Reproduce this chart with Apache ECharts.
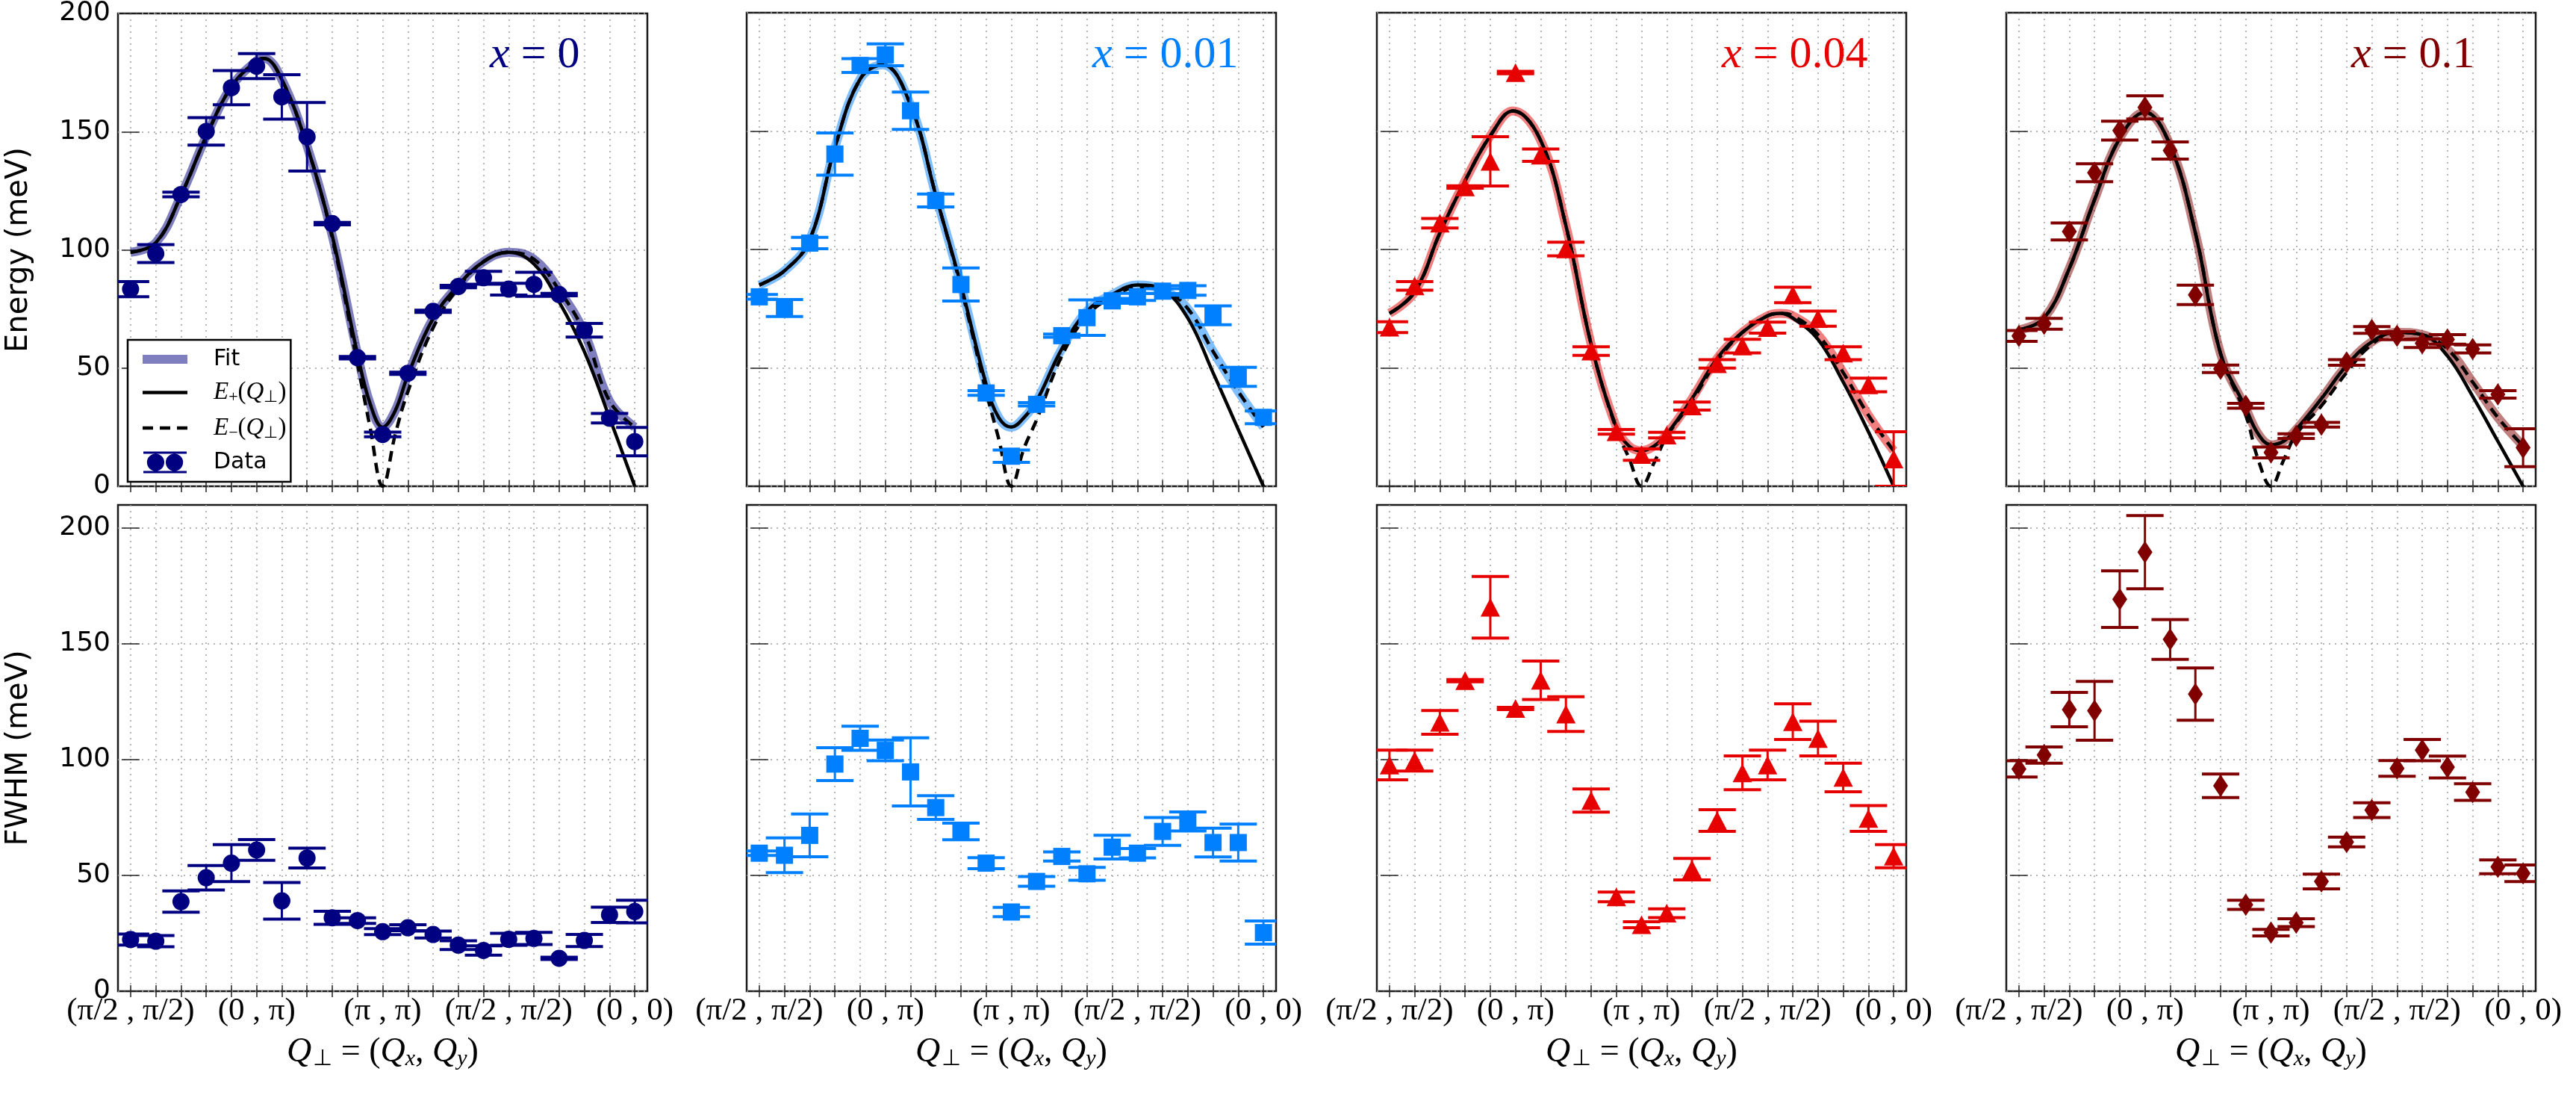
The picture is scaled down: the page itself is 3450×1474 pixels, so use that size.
<!DOCTYPE html>
<html>
<head>
<meta charset="utf-8">
<script src="https://cdn.jsdelivr.net/npm/echarts@6/dist/echarts.min.js"></script>
<style>
html, body { margin: 0; padding: 0; background: #fff; }
#chart { width: 3450px; height: 1474px; }
</style>
</head>
<body>
<div id="chart"></div>
<script>
// momentum points along the path, one per measurement
var qIndex = [0, 1, 2, 3, 4, 5, 6, 7, 8, 9, 10, 11, 12, 13, 14, 15, 16, 17, 18, 19, 20];
var tickPos = [0, 5, 10, 15, 20];
var tickLabels = ['(π/2 , π/2)', '(0 , π)', '(π , π)', '(π/2 , π/2)', '(0 , 0)'];
var yTicks = [0, 50, 100, 150, 200];
var dopings = ['0', '0.01', '0.04', '0.1'];

// energy (meV) and its error, per doping
var energy0 = [83.4, 98.4, 123.4, 150.1, 168.6, 177.7, 164.7, 147.8, 111.1, 54.4, 21.9, 47.8, 74.0, 84.5, 88.2, 83.4, 85.4, 81.1, 66.0, 28.8, 18.9];
var energyErr0 = [3.2, 3.8, 1.0, 5.8, 7.2, 5.3, 9.4, 14.5, 0.5, 0.5, 1.0, 0.5, 0.5, 0.5, 2.7, 2.5, 5.1, 0.5, 2.9, 2.0, 6.0];
var energy1 = [80.0, 75.3, 102.7, 140.3, 177.7, 182.2, 158.6, 120.7, 85.2, 39.4, 12.7, 34.6, 63.6, 71.2, 78.3, 80.0, 82.4, 82.7, 72.2, 46.2, 29.1];
var energyErr1 = [1.0, 3.6, 2.4, 8.9, 2.9, 4.6, 7.9, 2.7, 7.0, 1.0, 2.6, 0.7, 0.7, 7.5, 1.0, 1.5, 1.0, 2.0, 4.0, 4.0, 2.7];
var energy2 = [67.2, 84.6, 111.1, 126.4, 137.2, 174.7, 139.8, 100.2, 57.1, 23.0, 13.4, 21.6, 33.9, 51.7, 59.2, 67.0, 80.8, 70.8, 56.2, 42.8, 11.5];
var energyErr2 = [2.3, 1.8, 2.0, 0.5, 10.4, 0.5, 2.6, 2.9, 1.8, 1.0, 2.4, 1.2, 1.7, 1.8, 2.9, 2.3, 3.3, 3.2, 2.7, 2.9, 11.5];
var energy3 = [63.5, 68.6, 107.6, 132.4, 150.2, 160.0, 141.8, 80.8, 49.6, 34.0, 14.3, 21.2, 26.0, 52.3, 66.0, 63.6, 60.4, 62.0, 58.0, 38.8, 16.3];
var energyErr3 = [2.3, 2.3, 3.6, 3.8, 4.0, 4.9, 3.6, 4.1, 1.6, 1.0, 2.3, 1.0, 1.0, 1.2, 1.4, 1.7, 1.8, 2.0, 1.7, 1.6, 8.0];

// FWHM (meV) and its error, per doping
var fwhm0 = [22.3, 21.6, 38.7, 49.0, 55.3, 61.0, 39.0, 57.5, 31.7, 30.5, 25.7, 27.4, 24.5, 19.9, 17.6, 22.4, 22.8, 14.2, 21.9, 33.0, 34.4];
var fwhmErr0 = [2.4, 2.4, 4.6, 5.3, 8.0, 4.5, 7.9, 4.3, 2.8, 1.2, 1.3, 1.3, 1.5, 1.9, 2.0, 2.6, 2.6, 0.5, 2.6, 3.3, 4.9];
var fwhm1 = [59.6, 58.7, 67.3, 98.1, 109.2, 104.0, 94.7, 79.3, 69.0, 55.3, 34.2, 47.4, 58.2, 50.7, 62.2, 59.6, 69.0, 73.3, 64.2, 64.2, 25.3];
var fwhmErr1 = [1.0, 7.5, 9.2, 7.1, 5.2, 4.5, 14.7, 5.1, 3.6, 2.4, 2.0, 2.1, 2.0, 2.8, 5.1, 2.0, 6.0, 4.1, 6.2, 8.0, 5.0];
var fwhm2 = [97.7, 99.6, 116.1, 134.1, 165.8, 122.1, 134.3, 119.7, 82.3, 40.7, 28.7, 33.7, 52.7, 73.7, 94.3, 97.7, 116.4, 109.1, 92.3, 74.6, 58.3];
var fwhmErr2 = [6.4, 4.5, 5.1, 0.5, 13.3, 0.5, 8.3, 7.5, 5.0, 2.1, 1.3, 1.9, 4.6, 4.7, 7.3, 6.4, 7.7, 7.5, 6.2, 5.6, 5.0];
var fwhm3 = [96.0, 102.0, 121.6, 121.1, 169.3, 189.6, 151.9, 128.3, 88.7, 37.3, 25.3, 29.6, 47.4, 64.4, 78.2, 96.2, 104.1, 96.8, 86.0, 53.7, 50.9];
var fwhmErr3 = [3.5, 3.5, 7.4, 12.7, 12.2, 15.8, 8.6, 11.3, 5.1, 2.0, 1.4, 1.7, 3.2, 2.1, 3.2, 3.4, 4.6, 4.7, 3.6, 3.0, 3.6];

// model curves: [q, E]
var ePlus0 = [[0, 99], [1, 103], [2, 123], [3, 148], [4, 169], [5, 180], [5.3, 181], [6, 172], [7, 144], [8, 106], [9, 56], [9.5, 35], [10, 25], [10.5, 32], [11, 47], [12, 71], [13, 85], [14, 95], [15, 99], [16, 94], [17, 78], [18, 57], [19, 29], [20, 0]];
var eMinus0 = [[0, 99], [1, 103], [2, 123], [3, 148], [4, 169], [5, 180], [5.3, 181], [6, 172], [7, 144], [8, 105], [9, 52], [9.5, 25], [10, 0], [10.5, 22], [11, 40], [12, 67], [13, 84], [14, 95], [15, 99], [16, 96], [17, 83], [18, 65], [19, 36], [20, 25]];
var fit0 = [[0, 99], [1, 103], [2, 123], [3, 148], [4, 169], [5, 180], [5.3, 181], [6, 172], [7, 144], [8, 106], [9, 56], [9.5, 35], [10, 25], [10.5, 32], [11, 47], [12, 71], [13, 85], [14, 95], [15, 99], [16, 96], [17, 83], [18, 65], [19, 36], [20, 25]];

var ePlus1 = [[0, 85], [1, 91], [2, 104], [3, 143], [4, 172], [4.9, 178], [6, 161], [7, 123], [8, 85], [9, 43], [9.5, 29], [10, 25], [10.5, 29], [11, 36], [12, 58], [13, 74], [14, 81], [15, 85], [16, 83], [17, 71], [18, 48], [19, 24], [20, 0]];
var eMinus1 = [[0, 85], [1, 91], [2, 104], [3, 143], [4, 172], [4.9, 178], [6, 161], [7, 123], [8, 84], [9, 40], [9.5, 20], [10, 0], [10.5, 16], [11, 28], [12, 55], [13, 72], [14, 80], [15, 84], [16, 83], [17, 75], [18, 57], [19, 40], [20, 25]];
var fit1 = [[0, 85], [1, 91], [2, 104], [3, 143], [4, 172], [4.9, 178], [6, 161], [7, 123], [8, 85], [9, 43], [9.5, 29], [10, 25], [10.5, 29], [11, 36], [12, 58], [13, 74], [14, 81], [15, 85], [16, 83], [17, 75], [18, 57], [19, 40], [20, 25]];

var ePlus2 = [[0, 73], [1, 82], [2, 107], [3, 129], [4, 148], [4.9, 158.5], [6, 146], [7, 110], [8, 60], [9, 25], [9.5, 17], [10, 15], [10.5, 17], [11, 22], [12, 37], [13, 54], [14, 65], [15, 72], [15.5, 73], [16, 71], [17, 62], [18, 44], [19, 23], [20, 0]];
var eMinus2 = [[0, 73], [1, 82], [2, 107], [3, 129], [4, 148], [4.9, 158.5], [6, 146], [7, 110], [8, 60], [9, 24], [9.5, 12], [10, 0], [10.5, 10], [11, 21], [12, 36], [13, 53], [14, 65], [15, 72], [15.5, 73], [16, 72], [17, 64], [18, 48], [19, 30], [20, 15]];
var fit2 = [[0, 73], [1, 82], [2, 107], [3, 129], [4, 148], [4.9, 158.5], [6, 146], [7, 110], [8, 60], [9, 25], [9.5, 17], [10, 15], [10.5, 17], [11, 22], [12, 37], [13, 54], [14, 65], [15, 72], [15.5, 73], [16, 72], [17, 64], [18, 48], [19, 30], [20, 15]];

var ePlus3 = [[0, 66], [1, 71], [2, 92], [3, 121], [4, 147], [5, 158], [6, 144], [7, 107], [8, 56], [9, 33], [9.5, 22], [10, 17.5], [10.5, 19], [11, 24], [12, 37], [13, 51], [14, 61], [15, 65], [16, 64], [17, 55], [18, 38], [19, 19], [20, 0]];
var eMinus3 = [[0, 66], [1, 71], [2, 92], [3, 121], [4, 147], [5, 158], [6, 144], [7, 107], [8, 56], [9, 30], [9.5, 11], [10, 0], [10.5, 11], [11, 22], [12, 34], [13, 48], [14, 60], [15, 65], [16, 64], [17, 58], [18, 44], [19, 29], [20, 17]];
var fit3 = [[0, 66], [1, 71], [2, 92], [3, 121], [4, 147], [5, 158], [6, 144], [7, 107], [8, 56], [9, 33], [9.5, 22], [10, 17.5], [10.5, 19], [11, 24], [12, 37], [13, 51], [14, 61], [15, 65], [16, 64], [17, 58], [18, 44], [19, 29], [20, 17]];

var energies = [energy0, energy1, energy2, energy3];
var energyErrs = [energyErr0, energyErr1, energyErr2, energyErr3];
var fwhms = [fwhm0, fwhm1, fwhm2, fwhm3];
var fwhmErrs = [fwhmErr0, fwhmErr1, fwhmErr2, fwhmErr3];
var ePlus = [ePlus0, ePlus1, ePlus2, ePlus3];
var eMinus = [eMinus0, eMinus1, eMinus2, eMinus3];
var fits = [fit0, fit1, fit2, fit3];

// styling
var colors = ['#000080', '#0080ff', '#e60000', '#800000'];
var fitColors = ['rgba(0,0,128,0.5)', 'rgba(0,128,255,0.5)', 'rgba(230,0,0,0.5)', 'rgba(128,0,0,0.5)'];
var symbols = ['circle', 'rect', 'triangle', 'diamond'];
var symbolSizes = [23, 23, [26, 25], [20, 30]];
var colLeft = [158, 1000, 1844, 2687];
var panelW = 709;
var rowTop = [17, 676];
var rowH = [634, 651];
var rowMax = [200, 210];
var annLeft = [656, 1463, 2306, 3149];

var serif = 'Liberation Serif';
var sans = 'DejaVu Sans';

function errRender(color) {
    return function (params, api) {
        var x = api.value(0), y = api.value(1), e = api.value(2);
        var hi = api.coord([x, y + e]);
        var lo = api.coord([x, y - e]);
        var hw = 25;
        return {
            type: 'group',
            children: [
                { type: 'line', shape: { x1: hi[0], y1: hi[1], x2: lo[0], y2: lo[1] }, style: { stroke: color, lineWidth: 3 } },
                { type: 'line', shape: { x1: hi[0] - hw, y1: hi[1], x2: hi[0] + hw, y2: hi[1] }, style: { stroke: color, lineWidth: 4 } },
                { type: 'line', shape: { x1: lo[0] - hw, y1: lo[1], x2: lo[0] + hw, y2: lo[1] }, style: { stroke: color, lineWidth: 4 } }
            ]
        };
    };
}

var tickLine = { color: '#222', width: 1.5 };
var gridLine = { color: '#a0a0a0', width: 1.5, type: [2, 6] };
var grids = [], xAxes = [], yAxes = [], series = [];

for (var r = 0; r < 2; r++) {
    for (var c = 0; c < 4; c++) {
        var g = r * 4 + c;
        grids.push({
            left: colLeft[c], top: rowTop[r], width: panelW, height: rowH[r],
            show: true, borderColor: '#1a1a1a', borderWidth: 2.5, backgroundColor: 'transparent'
        });
        xAxes.push({
            gridIndex: g, type: 'value', min: -0.5, max: 20.5, position: 'bottom',
            axisLine: { show: false },
            axisTick: { show: true, inside: true, length: 8, customValues: qIndex, lineStyle: tickLine },
            axisLabel: {
                show: r === 1, customValues: tickPos, margin: 5,
                fontFamily: serif, fontSize: 43, color: '#000',
                formatter: function (v) { var k = tickPos.indexOf(Math.round(v)); return k >= 0 ? tickLabels[k] : ''; }
            },
            splitLine: { show: true, lineStyle: gridLine },
            name: r === 1 ? '{i|Q}{s|⊥}{n| = (}{i|Q}{si|x}{n|, }{i|Q}{si|y}{n|)}' : '',
            nameLocation: 'middle', nameGap: 58,
            nameTextStyle: {
                color: '#000',
                rich: {
                    i: { fontFamily: serif, fontStyle: 'italic', fontSize: 46, color: '#000' },
                    n: { fontFamily: serif, fontSize: 46, color: '#000' },
                    s: { fontFamily: serif, fontSize: 30, color: '#000', padding: [18, 0, 0, 2] },
                    si: { fontFamily: serif, fontStyle: 'italic', fontSize: 30, color: '#000', padding: [18, 0, 0, 0] }
                }
            }
        });
        xAxes.push({
            gridIndex: g, type: 'value', min: -0.5, max: 20.5, position: 'top',
            axisLine: { show: false },
            axisTick: { show: true, inside: true, length: 8, customValues: qIndex, lineStyle: tickLine },
            axisLabel: { show: false },
            splitLine: { show: false }
        });
        yAxes.push({
            gridIndex: g, type: 'value', min: 0, max: rowMax[r], position: 'left',
            axisLine: { show: false },
            axisTick: { show: true, inside: true, length: 12, customValues: yTicks, lineStyle: tickLine },
            axisLabel: { show: c === 0, customValues: yTicks, margin: 10, fontFamily: sans, fontSize: 36, color: '#000' },
            splitLine: { show: true, lineStyle: gridLine },
            name: c === 0 ? (r === 0 ? 'Energy (meV)' : 'FWHM (meV)') : '',
            nameLocation: 'middle', nameGap: 112,
            nameTextStyle: { fontFamily: sans, fontSize: 40, color: '#000' }
        });
        yAxes.push({
            gridIndex: g, type: 'value', min: 0, max: rowMax[r], position: 'right',
            axisLine: { show: false },
            axisTick: { show: true, inside: true, length: 12, customValues: yTicks, lineStyle: tickLine },
            axisLabel: { show: false },
            splitLine: { show: false }
        });

        var xi = 2 * g, yi = 2 * g;
        var tag = c === 0 ? '' : ' ' + dopings[c];
        var vals = r === 0 ? energies[c] : fwhms[c];
        var errs = r === 0 ? energyErrs[c] : fwhmErrs[c];

        if (r === 0) {
            series.push({
                name: 'Fit' + tag, type: 'line', xAxisIndex: xi, yAxisIndex: yi,
                data: fits[c], smooth: 0.4, symbol: 'none', z: 2,
                itemStyle: { color: fitColors[c] },
                lineStyle: { color: fitColors[c], width: 12 }
            });
            series.push({
                name: 'E+' + tag, type: 'line', xAxisIndex: xi, yAxisIndex: yi,
                data: ePlus[c], smooth: 0.4, symbol: 'none', z: 3,
                itemStyle: { color: '#000' },
                lineStyle: { color: '#000', width: 4.5 }
            });
            series.push({
                name: 'E−' + tag, type: 'line', xAxisIndex: xi, yAxisIndex: yi,
                data: eMinus[c], smooth: 0.4, symbol: 'none', z: 3,
                itemStyle: { color: '#000' },
                lineStyle: { color: '#000', width: 4.5, type: [14, 9] }
            });
        }
        series.push({
            name: (r === 0 ? 'Data' : 'Width') + tag, type: 'custom', xAxisIndex: xi, yAxisIndex: yi,
            clip: true, z: 4,
            itemStyle: { color: colors[c] },
            renderItem: errRender(colors[c]),
            data: qIndex.map(function (q, i) { return [q, vals[i], errs[i]]; })
        });
        series.push({
            name: (r === 0 ? 'Data' : 'Width') + tag, type: 'scatter', xAxisIndex: xi, yAxisIndex: yi,
            symbol: symbols[c], symbolSize: symbolSizes[c], z: 5,
            itemStyle: { color: colors[c], opacity: 1 },
            data: qIndex.map(function (q, i) { return [q, vals[i]]; })
        });
    }
}

var dataIcon = 'path://M0 0H60V3H0Z M0 27H60V30H0Z M5 15A12 12 0 1 0 29 15A12 12 0 1 0 5 15Z M31 15A12 12 0 1 0 55 15A12 12 0 1 0 31 15Z';

var graphics = dopings.map(function (d, c) {
    return {
        type: 'text', left: annLeft[c], top: 44, z: 10,
        style: {
            text: '{i|x}{n| = ' + d + '}',
            rich: {
                i: { fontFamily: serif, fontStyle: 'italic', fontSize: 60, fill: colors[c] },
                n: { fontFamily: serif, fontSize: 60, fill: colors[c] }
            }
        }
    };
});

var chart = echarts.init(document.getElementById('chart'));
chart.setOption({
    backgroundColor: '#fff',
    animation: false,
    grid: grids,
    xAxis: xAxes,
    yAxis: yAxes,
    series: series,
    graphic: graphics,
    legend: {
        left: 171, top: 455, orient: 'vertical',
        data: [
            { name: 'Fit', itemStyle: { opacity: 0 }, lineStyle: { color: fitColors[0], width: 12 } },
            { name: 'E+', itemStyle: { opacity: 0 }, lineStyle: { color: '#000', width: 4.5 } },
            { name: 'E−', itemStyle: { opacity: 0 }, lineStyle: { color: '#000', width: 4.5, type: [14, 9] } },
            { name: 'Data', icon: dataIcon, itemStyle: { color: colors[0], opacity: 1 } }
        ],
        itemWidth: 60, itemHeight: 29, itemGap: 13,
        padding: [11, 6, 11, 14],
        borderColor: '#000', borderWidth: 2.5, borderRadius: 0, backgroundColor: '#fff',
        selectedMode: false,
        textStyle: {
            fontFamily: sans, fontSize: 30, color: '#000',
            rich: {
                t: { fontFamily: sans, fontSize: 30, color: '#000' },
                g: { fontFamily: sans, fontSize: 30, color: '#000' },
                e: { fontFamily: serif, fontStyle: 'italic', fontSize: 33, color: '#000' },
                p: { fontFamily: serif, fontSize: 33, color: '#000' },
                s: { fontFamily: serif, fontSize: 22, color: '#000', padding: [14, 0, 0, 0] }
            }
        },
        formatter: function (name) {
            var gap = '{g|\u2002\u2002}';
            if (name === 'E+') { return gap + '{e|E}{s|+}{p|(}{e|Q}{s|⊥}{p|)}'; }
            if (name === 'E−') { return gap + '{e|E}{s|−}{p|(}{e|Q}{s|⊥}{p|)}'; }
            return gap + '{t|' + name + '}';
        }
    }
});
</script>
</body>
</html>
